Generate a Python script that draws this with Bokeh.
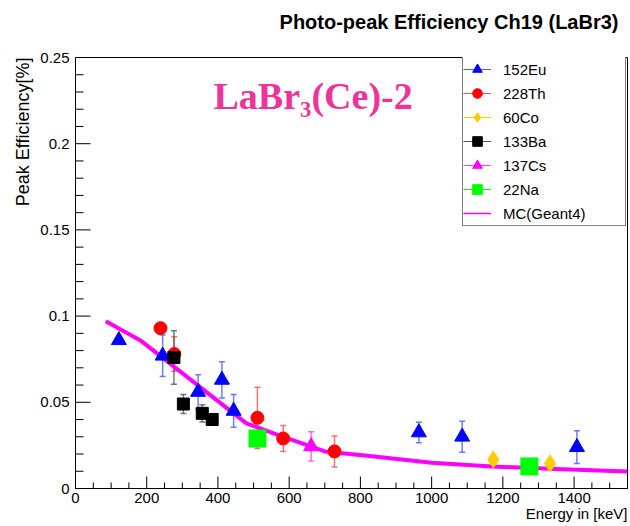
import math
from bokeh.plotting import figure
from bokeh.models import (Range1d, ColumnDataSource, Whisker, TeeHead, Label, Legend,
                          LegendItem, Title, CustomJSTickFormatter)
from bokeh.embed import file_html
from bokeh.resources import INLINE

# ---------------- data ----------------
eu_energy = [121.8, 244.7, 344.3, 411.1, 444.0, 964.1, 1085.8, 1408.0]
eu_eff = [0.086, 0.077, 0.056, 0.063, 0.045, 0.0325, 0.030, 0.024]
eu_err = [0.001, 0.012, 0.010, 0.0105, 0.0095, 0.006, 0.009, 0.0095]

th_energy = [238.6, 277.4, 510.8, 583.2, 727.3]
th_eff = [0.093, 0.078, 0.041, 0.029, 0.0215]
th_err = [0.001, 0.010, 0.0178, 0.0076, 0.009]

co_energy = [1173.2, 1332.5]
co_eff = [0.0168, 0.0145]
co_err = [0.002, 0.002]

ba_energy = [276.4, 302.9, 356.0, 383.8]
ba_eff = [0.076, 0.049, 0.0436, 0.040]
ba_err = [0.0155, 0.0055, 0.005, 0.002]

cs_energy = [661.7]
cs_eff = [0.0244]
cs_err = [0.0085]

na_energy = [511.0, 1274.5]
na_eff = [0.029, 0.0128]
na_err = [0.003, 0.002]

mc_energy = [85, 185, 480, 570, 700, 820, 1000, 1170, 1330, 1550]
mc_eff = [0.097, 0.0855, 0.0378, 0.031, 0.0215, 0.019, 0.015, 0.0128, 0.0115, 0.0098]

# axis ticks
x_major = [0, 200, 400, 600, 800, 1000, 1200, 1400]
x_minor_step = 50
y_major = [0.0, 0.05, 0.10, 0.15, 0.20, 0.25]
y_minor_step = 0.01

X_MAX, Y_MAX = 1550, 0.25

series = [
    # label, energies, eff, err, marker, color, err color, size
    ("152Eu", eu_energy, eu_eff, eu_err, "triangle", "#0000ff", "#4d5cff", 15),
    ("228Th", th_energy, th_eff, th_err, "circle", "#ff0000", "#ff5050", 13),
    ("60Co", co_energy, co_eff, co_err, "diamond", "#ffcc00", "#ffcc00", 17),
    ("133Ba", ba_energy, ba_eff, ba_err, "square", "#000000", "#555555", 12),
    ("137Cs", cs_energy, cs_eff, cs_err, "triangle", "#ff00ff", "#ff44ff", 15),
    ("22Na", na_energy, na_eff, na_err, "square", "#00ff00", "#00ff00", 17),
]

FONT = "Liberation Sans"
NAN = float("nan")

p = figure(width=630, height=526, output_backend="svg", toolbar_location=None,
           x_range=Range1d(0, X_MAX), y_range=Range1d(0, Y_MAX),
           min_border_left=75, min_border_right=3, min_border_top=57, min_border_bottom=38,
           background_fill_color="white", border_fill_color="white")
p.grid.visible = False
p.outline_line_color = "black"
p.outline_line_width = 1

p.title.text = "Photo-peak Efficiency Ch19 (LaBr3)"
p.title.align = "right"
p.title.offset = 9
p.title.standoff = 0
p.title.text_font = FONT
p.title.text_font_style = "bold"
p.title.text_font_size = "20px"
p.title.text_color = "black"

# blank title: spacer between the frame and the real title
spacer = Title(text=" ", text_font=FONT, text_font_size="16px", standoff=6)
p.add_layout(spacer, "above")

p.xaxis.ticker = x_major
p.yaxis.ticker = y_major
p.yaxis.formatter = CustomJSTickFormatter(code="return parseFloat(tick.toFixed(4)).toString();")
for ax in (p.xaxis, p.yaxis):
    ax.axis_line_color = "black"
    ax.major_tick_line_color = None
    ax.minor_tick_line_color = None
    ax.major_tick_out = 0
    ax.minor_tick_out = 0
    ax.major_tick_in = 0
    ax.minor_tick_in = 0
    ax.major_label_text_font = FONT
    ax.major_label_text_font_size = "15px"
    ax.major_label_text_color = "black"
p.xaxis.major_label_standoff = 4
p.yaxis.major_label_standoff = 6

# inward ROOT-style ticks drawn as segments (lengths in pixels converted to data units)
FRAME_W, FRAME_H = 552, 431
xt_major_len = 12 / FRAME_H * Y_MAX
xt_minor_len = 6 / FRAME_H * Y_MAX
yt_major_len = 15 / FRAME_W * X_MAX
yt_minor_len = 8 / FRAME_W * X_MAX
xm = [v for v in range(0, X_MAX + 1, x_minor_step) if v not in x_major]
ym = [round(i * y_minor_step, 4) for i in range(0, 26) if round(i * y_minor_step, 4) not in y_major]
p.segment(x0=x_major, y0=[0] * len(x_major), x1=x_major, y1=[xt_major_len] * len(x_major),
          line_color="black", line_width=1)
p.segment(x0=xm, y0=[0] * len(xm), x1=xm, y1=[xt_minor_len] * len(xm),
          line_color="black", line_width=1)
p.segment(x0=[0] * len(y_major), y0=y_major, x1=[yt_major_len] * len(y_major), y1=y_major,
          line_color="black", line_width=1)
p.segment(x0=[0] * len(ym), y0=ym, x1=[yt_minor_len] * len(ym), y1=ym,
          line_color="black", line_width=1)

# MC line (drawn below markers)
p.line(mc_energy, mc_eff, line_color="#ff00ff", line_width=4)

items = []
for label, xs, ys, es, marker, color, ecolor, size in series:
    src = ColumnDataSource(dict(x=xs, y=ys,
                                up=[a + b for a, b in zip(ys, es)],
                                lo=[a - b for a, b in zip(ys, es)]))
    p.add_layout(Whisker(source=src, base="x", upper="up", lower="lo",
                         line_color=ecolor, line_width=1.5, line_alpha=0.8,
                         upper_head=TeeHead(size=6, line_color=ecolor, line_width=1.5, line_alpha=0.8),
                         lower_head=TeeHead(size=6, line_color=ecolor, line_width=1.5, line_alpha=0.8)))
    lr = p.line(x=[NAN, NAN], y=[NAN, NAN], line_color=ecolor, line_width=1)
    sr = p.scatter("x", "y", source=src, marker=marker, size=size,
                   fill_color=color, line_color=color)
    items.append(LegendItem(label=label, renderers=[lr, sr]))

mc_leg = p.line(x=[NAN, NAN], y=[NAN, NAN], line_color="#ff00ff", line_width=1.5)
items.append(LegendItem(label="MC(Geant4)", renderers=[mc_leg]))

legend = Legend(items=items, location=(387, 262), orientation="vertical",
                glyph_width=28, glyph_height=24, spacing=0, padding=0, margin=0,
                label_standoff=12, label_width=122, label_height=24,
                label_text_font=FONT, label_text_font_size="15px", label_text_color="black",
                border_line_color="black", border_line_width=1,
                background_fill_color="white", background_fill_alpha=1.0)
p.add_layout(legend)

# texts
p.add_layout(Label(x=138, y=393, x_units="screen", y_units="screen",
                   text="LaBr\u2083(Ce)-2", text_align="left", text_baseline="alphabetic",
                   text_font="Liberation Serif", text_font_style="bold",
                   text_font_size="38px", text_color="#ee3399"))

ylab = Title(text="Peak Efficiency[%]", align="right", text_font=FONT,
             text_font_style="normal", text_font_size="18px", text_color="black")
p.add_layout(ylab, "left")
xlab = Title(text="Energy in [keV]", align="right", text_font=FONT, standoff=-6,
             text_font_style="normal", text_font_size="15px", text_color="black")
p.add_layout(xlab, "below")

open("out.html", "w").write(file_html(p, INLINE))
